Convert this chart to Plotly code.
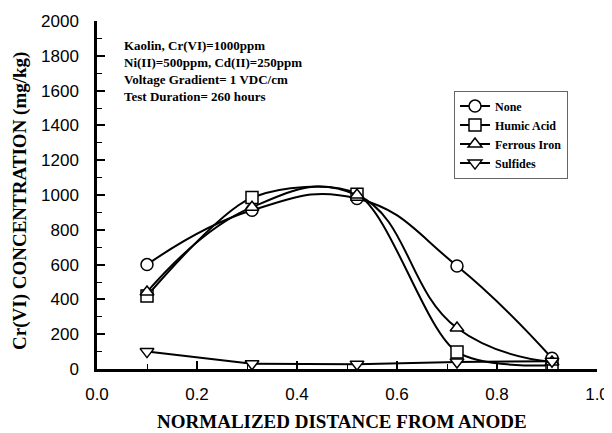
import plotly.graph_objects as go

distance = [0.10, 0.31, 0.52, 0.72, 0.91]
none_vals = [600, 912, 980, 592, 62]
humic_vals = [420, 985, 1005, 98, 20]
ferrous_vals = [443, 930, 1000, 236, 40]
sulfide_vals = [100, 30, 28, 40, 45]

series = [
    ("None", none_vals, "circle", "spline", 1.3),
    ("Humic Acid", humic_vals, "square", "spline", 0.8),
    ("Ferrous Iron", ferrous_vals, "triangle-up", "spline", 1.3),
    ("Sulfides", sulfide_vals, "triangle-down", "linear", 1.0),
]

fig = go.Figure()
for name, vals, sym, shape, smooth in series:
    fig.add_trace(go.Scatter(
        x=distance, y=vals, name=name, mode="lines+markers",
        line=dict(color="black", width=2, shape=shape, smoothing=smooth),
        marker=dict(symbol=sym, size=12, color="white",
                    line=dict(color="black", width=1.5)),
    ))

serif = "Liberation Serif, Times New Roman, serif"
sans = "Liberation Sans, Arial, sans-serif"

fig.add_annotation(
    x=0.05, y=1915, xref="x", yref="y", xanchor="left", yanchor="top",
    showarrow=False, align="left",
    text="Kaolin, Cr(VI)=1000ppm<br>Ni(II)=500ppm, Cd(II)=250ppm<br>"
         "Voltage Gradient= 1 VDC/cm<br>Test Duration= 260 hours",
    font=dict(family=serif, size=13, color="black", weight="bold"),
)
fig.add_annotation(
    x=-0.154, y=0.483, xref="paper", yref="paper", xanchor="center", yanchor="middle",
    showarrow=False, textangle=-90, text="Cr(VI) CONCENTRATION (mg/kg)",
    font=dict(family=serif, size=19, color="black", weight="bold"),
)
fig.add_annotation(
    x=0.49, y=-0.152, xref="paper", yref="paper", xanchor="center", yanchor="middle",
    showarrow=False, text="NORMALIZED DISTANCE FROM ANODE",
    font=dict(family=serif, size=19, color="black", weight="bold"),
)

fig.update_layout(
    width=604, height=425,
    margin=dict(l=89, r=15, t=13, b=64, autoexpand=False),
    paper_bgcolor="white", plot_bgcolor="white",
    showlegend=True,
    legend=dict(
        x=0.714, y=0.80, xanchor="left", yanchor="top",
        bgcolor="white", bordercolor="#666", borderwidth=1,
        font=dict(family=serif, size=12, color="black", weight="bold"),
        tracegroupgap=0, itemwidth=30,
    ),
    xaxis=dict(
        range=[0, 1.0], tickvals=[0, 0.2, 0.4, 0.6, 0.8, 1.0],
        ticktext=["0.0", "0.2", "0.4", "0.6", "0.8", "1.0"],
        ticks="inside", ticklen=8, tickwidth=1.5, tickcolor="black",
        minor=dict(tickvals=[0.1, 0.3, 0.5, 0.7, 0.9], ticks="inside",
                   ticklen=5, tickcolor="black", tickwidth=1.2),
        showline=True, linecolor="black", linewidth=2.5,
        showgrid=False, zeroline=False, automargin=False,
        ticklabelstandoff=8,
        tickfont=dict(family=sans, size=17, color="black"),
    ),
    yaxis=dict(
        range=[0, 2000], tickvals=list(range(0, 2001, 200)),
        ticks="inside", ticklen=8, tickwidth=1.5, tickcolor="black",
        minor=dict(tickvals=list(range(100, 2000, 200)), ticks="inside",
                   ticklen=5, tickcolor="black", tickwidth=1.2),
        showline=True, linecolor="black", linewidth=2.5,
        showgrid=False, zeroline=False, automargin=False,
        ticklabelstandoff=12,
        tickfont=dict(family=sans, size=17, color="black"),
    ),
)

fig.write_html("out.html")
